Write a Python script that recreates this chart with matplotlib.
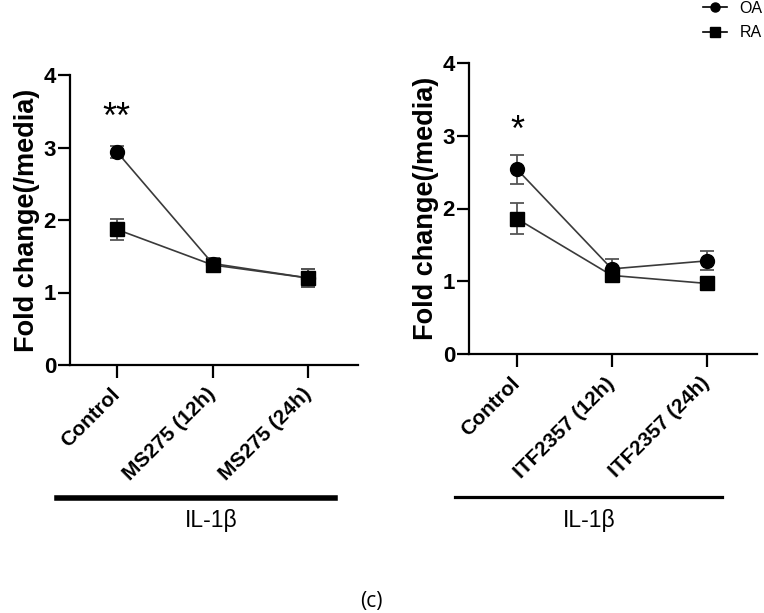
import matplotlib
matplotlib.use("Agg")
import matplotlib.pyplot as plt
from matplotlib.lines import Line2D

plt.rcParams['font.family'] = ['Liberation Sans', 'DejaVu Sans']

# ---- data ----
left_categories = ["Control", "MS275 (12h)", "MS275 (24h)"]
left_oa = [2.94, 1.40, 1.20]
left_oa_err = [0.08, 0.07, 0.13]
left_ra = [1.87, 1.38, 1.20]
left_ra_err = [0.15, 0.07, 0.12]

right_categories = ["Control", "ITF2357 (12h)", "ITF2357 (24h)"]
right_oa = [2.54, 1.17, 1.28]
right_oa_err = [0.20, 0.13, 0.13]
right_ra = [1.86, 1.08, 0.97]
right_ra_err = [0.21, 0.05, 0.05]

series_labels = ["OA", "RA"]
y_ticks = [0, 1, 2, 3, 4]
treatment_label = "IL-1\u03b2"
panel_label = "(c)"
y_label = "Fold change(/media)"

W, H = 764, 613
fig = plt.figure(figsize=(W / 100, H / 100), dpi=100)


def px_axes(x0, x1, ytop, ybot):
    return fig.add_axes([x0 / W, 1 - ybot / H, (x1 - x0) / W, (ybot - ytop) / H])


def draw_panel(ax, cats, oa, oae, ra, rae, xlim, stars, star_y):
    x = list(range(len(cats)))
    ax.errorbar(x, oa, yerr=oae, fmt='none', ecolor='#555555', elinewidth=1.3,
                capsize=5, capthick=1.3, zorder=2)
    ax.errorbar(x, ra, yerr=rae, fmt='none', ecolor='#555555', elinewidth=1.3,
                capsize=5, capthick=1.3, zorder=2)
    ax.plot(x, ra, color='#3a3a3a', lw=1.2, marker='s', ms=9.5,
            mfc='black', mec='black', zorder=3)
    ax.plot(x, oa, color='#3a3a3a', lw=1.2, marker='o', ms=10,
            mfc='black', mec='black', zorder=4)
    ax.set_xlim(*xlim)
    ax.set_ylim(0, 4)
    ax.set_yticks(y_ticks)
    ax.set_xticks(x)
    ax.set_xticklabels(cats, rotation=45, ha='right', va='center',
                       rotation_mode='anchor', fontsize=15, fontweight='bold')
    for lab in ax.get_yticklabels():
        lab.set_fontweight('bold')
        lab.set_fontsize(16)
    ax.spines['top'].set_visible(False)
    ax.spines['right'].set_visible(False)
    for s in ('left', 'bottom'):
        ax.spines[s].set_linewidth(1.6)
    ax.tick_params(axis='both', length=9, width=1.6, direction='out')
    ax.tick_params(axis='y', pad=1.0)
    ax.tick_params(axis='x', pad=10)
    ax.set_ylabel(y_label, fontsize=19.5, fontweight='bold', labelpad=3)
    ax.text(0, star_y, stars, ha='center', va='center', fontsize=26)


axL = px_axes(70, 358, 75, 365)
draw_panel(axL, left_categories, left_oa, left_oa_err, left_ra, left_ra_err,
           (-0.49, 2.52), "**", 3.40)
axR = px_axes(469, 757, 63, 354)
draw_panel(axR, right_categories, right_oa, right_oa_err, right_ra, right_ra_err,
           (-0.505, 2.53), "*", 3.06)

# treatment bars
fig.add_artist(Line2D([57 / W, 335 / W], [1 - 498 / H, 1 - 498 / H],
                      color='black', lw=4, transform=fig.transFigure))
fig.add_artist(Line2D([455 / W, 722 / W], [1 - 497 / H, 1 - 497 / H],
                      color='black', lw=2.3, transform=fig.transFigure))
fig.text(211 / W, 1 - 520 / H, treatment_label, ha='center', va='center', fontsize=16.5)
fig.text(589 / W, 1 - 520 / H, treatment_label, ha='center', va='center', fontsize=16.5)
fig.text(371 / W, 1 - 601 / H, panel_label, ha='center', va='center', fontsize=15,
         family=['Open Sans', 'DejaVu Sans'])

handles = [Line2D([], [], color='black', lw=1.2, marker='o', ms=6.5),
           Line2D([], [], color='black', lw=1.2, marker='s', ms=6.5)]
fig.legend(handles, series_labels, loc='upper right', bbox_to_anchor=(0.998, 0.999),
           frameon=False, fontsize=11.5, handlelength=1.5, handletextpad=0.8,
           labelspacing=0.6, borderpad=0, borderaxespad=0)

fig.savefig("out.png", dpi=100)
